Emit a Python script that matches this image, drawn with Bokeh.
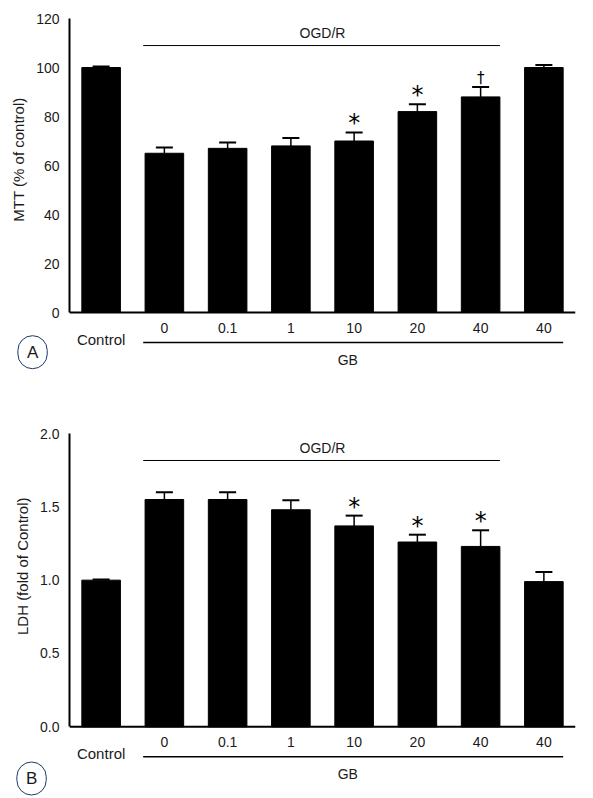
from bokeh.plotting import figure
from bokeh.models import (FixedTicker, Label, Whisker, TeeHead, Span,
                          ColumnDataSource, PrintfTickFormatter)
from bokeh.layouts import column
from bokeh.embed import file_html
from bokeh.resources import INLINE
from bokeh.core.properties import value

# ---------------- data ----------------
groups = ["Control", "0", "0.1", "1", "10", "20", "40", "40"]
ogd_first, ogd_last = 1, 6          # groups under the OGD/R bracket
gb_first, gb_last = 1, 7            # groups under the GB bracket

mtt_mean = [100, 65, 67, 68, 70, 82, 88, 100]
mtt_err = [0.4, 2.3, 2.4, 3.2, 3.5, 3.0, 4.0, 1.0]
mtt_marks = ["", "", "", "", "*", "*", "\u2020", ""]
mtt_ticks = [0, 20, 40, 60, 80, 100, 120]

ldh_mean = [1.0, 1.55, 1.55, 1.48, 1.37, 1.26, 1.23, 0.99]
ldh_err = [0.004, 0.05, 0.05, 0.065, 0.07, 0.05, 0.11, 0.065]
ldh_marks = ["", "", "", "", "*", "*", "*", ""]
ldh_ticks = [0.0, 0.5, 1.0, 1.5, 2.0]

FONT = "Liberation Sans"
TXT = "#1a1a1a"
W = 593
BAR_W = 0.61
BELOW_PX = 54      # room under the zero line for category labels / brackets


def panel(mean, err, marks, ticks, fmt, ylabel, ylabel_top, letter, letter_x, letter_px,
          letter_side, top_border, data_h, bottom_border):
    y_end = ticks[-1]
    ppu = data_h / y_end                      # pixels per data unit
    y_lo = -BELOW_PX / ppu
    n = len(groups)
    idx = list(range(n))
    frame_h = data_h + BELOW_PX
    p = figure(width=W, height=top_border + frame_h + bottom_border,
               x_range=(-0.5, n - 0.5), y_range=(y_lo, y_end),
               min_border_left=68, min_border_right=18, min_border_top=top_border,
               min_border_bottom=bottom_border, title=ylabel, title_location="left",
               output_backend="svg", toolbar_location=None)
    p.outline_line_color = None
    p.xgrid.visible = False
    p.ygrid.visible = False
    p.xaxis.visible = False

    # y-axis title (placed along the left side)
    p.title.align = "right"
    p.title.offset = ylabel_top
    p.title.standoff = 14
    p.title.text_font = FONT
    p.title.text_font_style = "normal"
    p.title.text_font_size = "15px"
    p.title.text_color = TXT

    upper = [m + e for m, e in zip(mean, err)]
    src = ColumnDataSource(dict(x=idx, top=mean, upper=upper))
    p.vbar(x="x", top="top", width=BAR_W, source=src, fill_color="black", line_color="black")
    p.add_layout(Whisker(source=src, base="x", lower="top", upper="upper",
                         upper_head=TeeHead(size=17, line_width=2, line_color="black"),
                         lower_head=None, line_width=1.5, line_color="black"))

    # significance marks
    star_i = [i for i, m in enumerate(marks) if m == "*"]
    dag_i = [i for i, m in enumerate(marks) if m == "\u2020"]
    if star_i:
        p.text(x=star_i, y=[upper[i] for i in star_i], text=[marks[i] for i in star_i],
               text_align="center", text_baseline="alphabetic", y_offset=-9,
               text_font=value("DejaVu Sans"), text_font_size="24px", text_color="black")
    if dag_i:
        p.text(x=dag_i, y=[upper[i] for i in dag_i], text=[marks[i] for i in dag_i],
               text_align="center", text_baseline="alphabetic", y_offset=-9,
               text_font=value("DejaVu Sans"), text_font_size="15px", text_color="black")

    # x axis line at zero
    p.add_layout(Span(location=0, dimension="width", line_color="black", line_width=2))

    # category labels under the axis
    p.text(x=idx[1:], y=[-15.5 / ppu] * (n - 1), text=groups[1:], text_align="center",
           text_baseline="middle", text_font=value(FONT), text_font_size="14px",
           text_color=TXT)
    p.text(x=[0], y=[-26.5 / ppu], text=[groups[0]], text_align="center",
           text_baseline="middle", text_font=value(FONT), text_font_size="15px",
           text_color=TXT)

    # GB bracket
    gy = -30 / ppu
    p.segment(x0=[gb_first - BAR_W / 2 - 0.03], x1=[gb_last + BAR_W / 2], y0=[gy], y1=[gy],
              line_color="black", line_width=1.5)
    p.text(x=[(gb_first + gb_last) / 2 - 0.1], y=[-47.5 / ppu], text=["GB"],
           text_align="center", text_baseline="middle", text_font=value(FONT),
           text_font_size="14px", text_color=TXT)

    # OGD/R bracket
    lvl = 0.908 * y_end
    p.segment(x0=[ogd_first - BAR_W / 2 - 0.03], x1=[ogd_last + BAR_W / 2], y0=[lvl], y1=[lvl],
              line_color="black", line_width=1)
    p.text(x=[(ogd_first + ogd_last) / 2], y=[lvl + 13 / ppu], text=["OGD/R"],
           text_align="center", text_baseline="middle", text_font=value(FONT),
           text_font_size="14px", text_color=TXT)

    # y axis
    yax = p.yaxis[0]
    yax.bounds = (0, y_end)
    yax.ticker = FixedTicker(ticks=ticks)
    yax.formatter = PrintfTickFormatter(format=fmt)
    yax.major_label_text_font = FONT
    yax.major_label_text_font_size = "14px"
    yax.major_label_text_color = TXT
    yax.major_label_standoff = 10
    yax.major_tick_out = 0
    yax.major_tick_in = 0
    yax.minor_tick_out = 0
    yax.minor_tick_in = 0
    yax.axis_line_width = 2

    # panel letter (in a side panel so it is not clipped to the frame)
    p.add_layout(Label(x=letter_x, y=-letter_px / ppu, text=letter, text_align="center",
                       text_baseline="middle", text_font=FONT, text_font_size="17px",
                       text_color=TXT, border_line_color="#1a3a6a",
                       border_line_width=1, border_radius=15, padding=(9, 7)),
                 letter_side)
    return p


pa = panel(mtt_mean, mtt_err, mtt_marks, mtt_ticks, "%d", "MTT (% of control)", 79,
           "A", -1.084, 39.7, "below", 18, 294, 34)
pb = panel(ldh_mean, ldh_err, ldh_marks, ldh_ticks, "%.1f", "LDH (fold of Control)", 64,
           "B", -1.10, 52, "above", 31, 295, 18)

layout = column(pa, pb, spacing=0)
open("out.html", "w").write(file_html(layout, INLINE))
